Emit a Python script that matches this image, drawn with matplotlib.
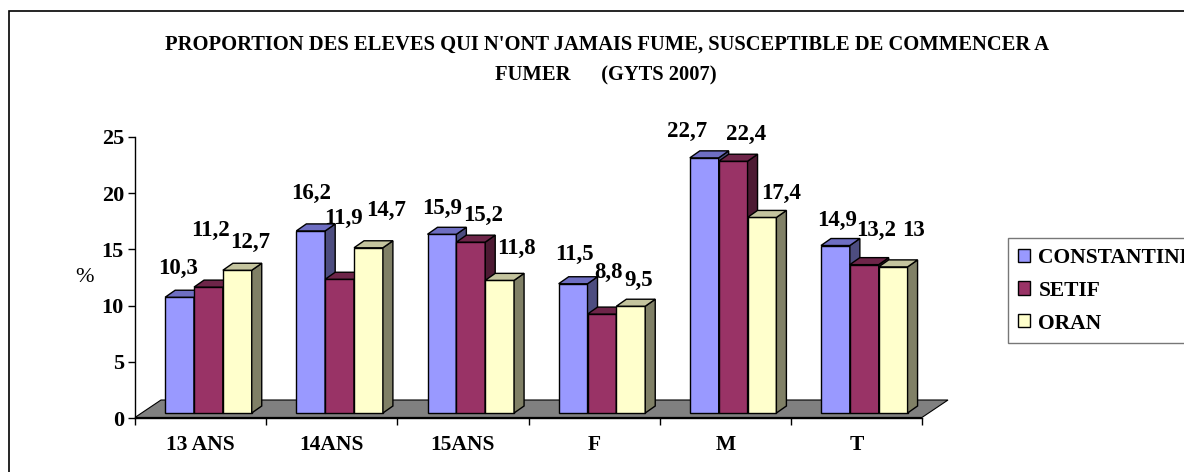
import matplotlib.pyplot as plt
from matplotlib.patches import Polygon, Rectangle, Patch

categories = ['13 ANS', '14ANS', '15ANS', 'F', 'M', 'T']
series_names = ['CONSTANTINE', 'SETIF', 'ORAN']
constantine = [10.3, 16.2, 15.9, 11.5, 22.7, 14.9]
setif = [11.2, 11.9, 15.2, 8.8, 22.4, 13.2]
oran = [12.7, 14.7, 11.8, 9.5, 17.4, 13]
yticks = [0, 5, 10, 15, 20, 25]

front_colors = ['#9999FF', '#993366', '#FFFFCC']
side_colors = ['#4D4D80', '#4D1A33', '#808066']
top_colors = ['#6E6EC2', '#6E2549', '#C4C49E']

# where Excel put each value label, in pixels from the bar's top centre
label_offsets = [
    [(-2, 29), (0, 37), (0, 26), (1, 29), (-17, 26), (2, 25)],
    [(2, 57), (4, 61), (12, 27), (7, 42), (13, 27), (12, 34)],
    [(13, 28), (18, 37), (17, 32), (8, 26), (19, 24), (20, 36)],
]

W, H = 1184, 472
fig = plt.figure(figsize=(W / 100, H / 100), dpi=100)
font = {'family': 'Liberation Serif', 'weight': 'bold'}

# outer chart border (runs off the right and bottom like the original)
fig.patches.append(Rectangle((9 / W, -0.1), 1.2, 1.1 - 11 / H, transform=fig.transFigure,
                             fill=False, edgecolor='black', linewidth=1.2))

ax = fig.add_axes([135 / W, 1 - 418 / H, 787 / W, 281 / H])
ax.set_xlim(-0.5, 5.5)
ax.set_ylim(0, 25)

# 3d look: depth offsets in data units
dx = 10 / 131.2
dy = 7 / 11.24
base = 5 / 11.24
width = 0.22
shifts = [-0.27, -0.05, 0.17]

floor_dx = 26 / 131.2
floor_dy = 18 / 11.24
ax.add_patch(Polygon([(-0.5, 0.05), (5.5, 0.05), (5.5 + floor_dx, floor_dy),
                      (-0.5 + floor_dx, floor_dy)], closed=True,
                     facecolor='#808080', edgecolor='black', linewidth=0.8,
                     zorder=2, clip_on=False))

for j, vals in enumerate([constantine, setif, oran]):
    xs = [i + shifts[j] for i in range(len(categories))]
    z = 3 + j
    ax.bar(xs, vals, width=width, bottom=base, align='edge', color=front_colors[j],
           edgecolor='black', linewidth=1, zorder=z)
    for i, (x, v) in enumerate(zip(xs, vals)):
        top = base + v
        ax.add_patch(Polygon([(x + width, base), (x + width + dx, base + dy),
                              (x + width + dx, top + dy), (x + width, top)],
                             closed=True, facecolor=side_colors[j], edgecolor='black',
                             linewidth=1, zorder=z))
        ax.add_patch(Polygon([(x, top), (x + dx, top + dy), (x + width + dx, top + dy),
                              (x + width, top)], closed=True, facecolor=top_colors[j],
                             edgecolor='black', linewidth=1, zorder=z))
        ox, oy = label_offsets[j][i]
        ax.annotate(f'{v:g}'.replace('.', ','), xy=(x + width / 2, top),
                    xytext=(ox, oy), textcoords='offset pixels', ha='center',
                    va='center', fontsize=16.5, zorder=10, annotation_clip=False,
                    **font)

for side in ['top', 'right']:
    ax.spines[side].set_visible(False)
for side in ['left', 'bottom']:
    ax.spines[side].set_linewidth(1)

ax.set_yticks(yticks)
ax.set_yticklabels([str(t) for t in yticks], fontdict=font, fontsize=16)
ax.tick_params(axis='y', direction='out', length=5, width=1, pad=3)

ax.set_xticks(range(len(categories)))
ax.set_xticklabels(categories, fontdict=font, fontsize=15.5)
ax.set_xticks([i - 0.5 for i in range(len(categories) + 1)], minor=True)
ax.tick_params(axis='x', which='major', length=0, pad=12)
ax.tick_params(axis='x', which='minor', direction='out', length=5, width=1)

fig.text(84 / W, 1 - 277 / H, '%', ha='center', va='center', fontsize=16,
         family='Liberation Serif')

fig.text(607 / W, 1 - 45 / H,
         "PROPORTION DES ELEVES QUI N'ONT JAMAIS FUME, SUSCEPTIBLE DE COMMENCER A",
         ha='center', va='center', fontsize=14.8, **font)
fig.text(606 / W, 1 - 75 / H, 'FUMER      (GYTS 2007)', ha='center', va='center',
         fontsize=14.8, **font)

handles = [Patch(facecolor=c, edgecolor='black', linewidth=1) for c in front_colors]
fig.legend(handles, series_names, loc='upper left',
           bbox_to_anchor=(1008 / W, 1 - 238 / H), frameon=True, fancybox=False,
           edgecolor='#555555', prop={'family': 'Liberation Serif', 'weight': 'bold',
                                      'size': 15.5},
           handlelength=0.56, handleheight=0.56, handletextpad=0.4,
           labelspacing=0.6, borderpad=0.45, borderaxespad=0)

fig.savefig('out.png', dpi=100)
